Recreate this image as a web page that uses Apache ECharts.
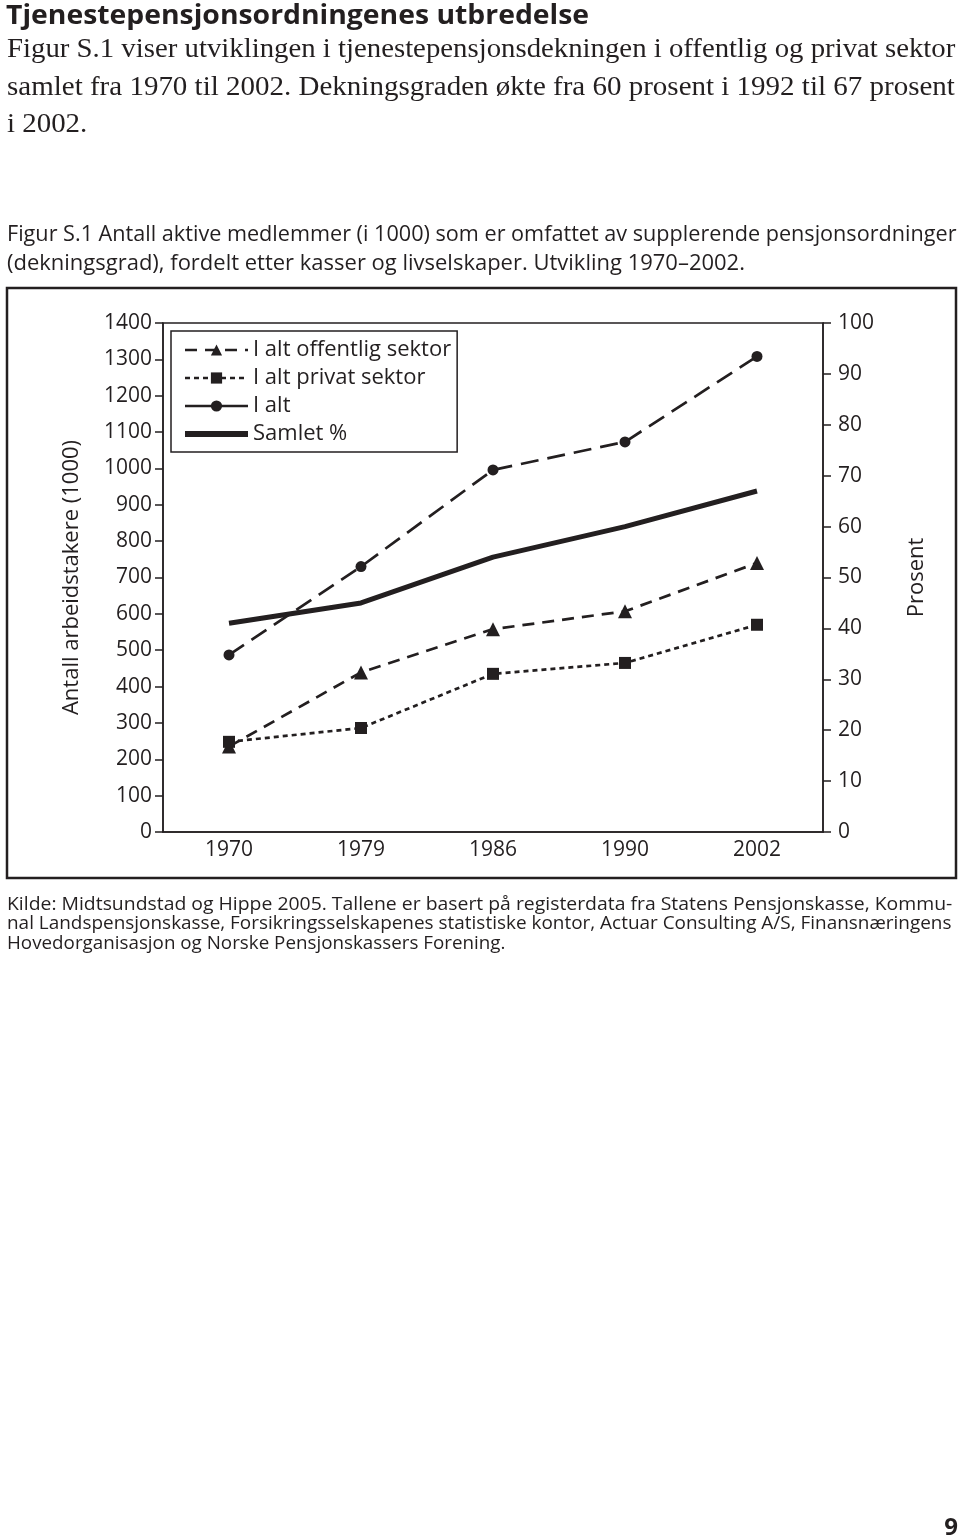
<!DOCTYPE html>
<html>
<head>
<meta charset="utf-8">
<script src="https://cdn.jsdelivr.net/npm/echarts@6/dist/echarts.min.js"></script>
<style>
html,body{margin:0;padding:0;background:#fff;}
#chart{width:960px;height:1539px;}
</style>
</head>
<body>
<div id="chart"></div>
<script>
const categories = ['1970', '1979', '1986', '1990', '2002'];
const offentlig = [235, 439, 558, 607, 740];
const privat = [248, 286, 435, 465, 570];
const iAlt = [487, 730, 996, 1073, 1308];
const samletProsent = [41, 45, 54, 60, 67];
const seriesNames = ['I alt offentlig sektor', 'I alt privat sektor', 'I alt', 'Samlet %'];
const leftAxisTitle = 'Antall arbeidstakere (1000)';
const rightAxisTitle = 'Prosent';

const INK = '#231f20';
const SANS = '"Open Sans", "Noto Sans", sans-serif';
const SERIF = '"Liberation Serif", "DejaVu Serif", serif';

const chart = echarts.init(document.getElementById('chart'), null, {renderer: 'canvas'});

function txt(text, x, y, font, sx, extra) {
  return {
    type: 'text', x: x, y: y, scaleX: sx || 1, silent: true,
    style: Object.assign({text: text, font: font, fill: INK, verticalAlign: 'middle', align: 'left'}, extra || {})
  };
}

const option = {
  backgroundColor: '#fff',
  animation: false,
  grid: {left: 163, right: 137, top: 323, bottom: 707, show: true, borderColor: INK, borderWidth: 1.5},
  legend: {
    orient: 'vertical', left: 171, top: 331, selectedMode: false,
    borderColor: INK, borderWidth: 1.5, padding: [8, 6, 7, 11],
    itemWidth: 63, itemHeight: 14, itemGap: 6,
    textStyle: {fontFamily: SANS, fontSize: 22, color: INK, lineHeight: 22},
    data: [
      {name: seriesNames[0], lineStyle: {width: 2.7}},
      {name: seriesNames[1], lineStyle: {width: 2.7}},
      {name: seriesNames[2], lineStyle: {type: 'solid', width: 2.7}},
      {name: seriesNames[3], lineStyle: {width: 6}, itemStyle: {color: 'rgba(0,0,0,0)', borderWidth: 0}}
    ]
  },
  xAxis: {
    type: 'category', data: categories, boundaryGap: true,
    axisLine: {lineStyle: {color: INK, width: 1.5}},
    axisTick: {show: false},
    axisLabel: {fontFamily: SANS, fontSize: 21, color: INK, margin: 8}
  },
  yAxis: [
    {
      type: 'value', min: 0, max: 1400, interval: 100, position: 'left',
      name: leftAxisTitle, nameLocation: 'middle', nameRotate: 90, nameGap: 80,
      nameTextStyle: {fontFamily: SANS, fontSize: 22, color: INK},
      axisLine: {show: true, lineStyle: {color: INK, width: 1.5}},
      axisTick: {show: true, length: 8, lineStyle: {color: INK, width: 1.5}},
      axisLabel: {fontFamily: SANS, fontSize: 21, color: INK, margin: 11, formatter: v => String(v)},
      splitLine: {show: false}
    },
    {
      type: 'value', min: 0, max: 100, interval: 10, position: 'right',
      name: rightAxisTitle, nameLocation: 'middle', nameRotate: 90, nameGap: 83,
      nameTextStyle: {fontFamily: SANS, fontSize: 22, color: INK},
      axisLine: {show: true, lineStyle: {color: INK, width: 1.5}},
      axisTick: {show: true, length: 8, lineStyle: {color: INK, width: 1.5}},
      axisLabel: {fontFamily: SANS, fontSize: 21, color: INK, margin: 15, formatter: v => String(v)},
      splitLine: {show: false}
    }
  ],
  series: [
    {
      name: seriesNames[0], type: 'line', yAxisIndex: 0, data: offentlig,
      symbol: 'triangle', symbolSize: 14,
      lineStyle: {color: INK, width: 2.7, type: [12, 8]},
      itemStyle: {color: INK}
    },
    {
      name: seriesNames[1], type: 'line', yAxisIndex: 0, data: privat,
      symbol: 'rect', symbolSize: 12,
      lineStyle: {color: INK, width: 2.7, type: [5, 4]},
      itemStyle: {color: INK}
    },
    {
      name: seriesNames[2], type: 'line', yAxisIndex: 0, data: iAlt,
      symbol: 'circle', symbolSize: 11,
      lineStyle: {color: INK, width: 2.7, type: [18, 9]},
      itemStyle: {color: INK}
    },
    {
      name: seriesNames[3], type: 'line', yAxisIndex: 1, data: samletProsent,
      symbol: 'none',
      lineStyle: {color: INK, width: 5},
      itemStyle: {color: INK}
    }
  ],
  graphic: [
    txt('Tjenestepensjonsordningenes utbredelse', 6, 17, 'bold 26px ' + SANS, 1.09),
    txt('Figur S.1 viser utviklingen i tjenestepensjonsdekningen i offentlig og privat sektor', 7, 50, '27px ' + SERIF, 1.066),
    txt('samlet fra 1970 til 2002. Dekningsgraden økte fra 60 prosent i 1992 til 67 prosent', 7, 88, '27px ' + SERIF, 1.074),
    txt('i 2002.', 7, 125, '27px ' + SERIF, 1.07),
    txt('Figur S.1 Antall aktive medlemmer (i 1000) som er omfattet av supplerende pensjonsordninger', 7, 235, '21px ' + SANS, 1.03),
    txt('(dekningsgrad), fordelt etter kasser og livselskaper. Utvikling 1970–2002.', 7, 264, '21px ' + SANS, 1.047),
    {type: 'rect', silent: true, shape: {x: 7, y: 288, width: 949, height: 590},
     style: {fill: 'none', stroke: INK, lineWidth: 2.5}},
    txt('Kilde: Midtsundstad og Hippe 2005. Tallene er basert på registerdata fra Statens Pensjonskasse, Kommu-', 7, 905, '18px ' + SANS, 1.077),
    txt('nal Landspensjonskasse, Forsikringsselskapenes statistiske kontor, Actuar Consulting A/S, Finansnæringens', 7, 924, '18px ' + SANS, 1.052),
    txt('Hovedorganisasjon og Norske Pensjonskassers Forening.', 7, 944, '18px ' + SANS, 1.044),
    txt('9', 951, 1528, 'bold 24px ' + SANS, 1, {align: 'center'})
  ]
};
chart.setOption(option);
</script>
</body>
</html>
